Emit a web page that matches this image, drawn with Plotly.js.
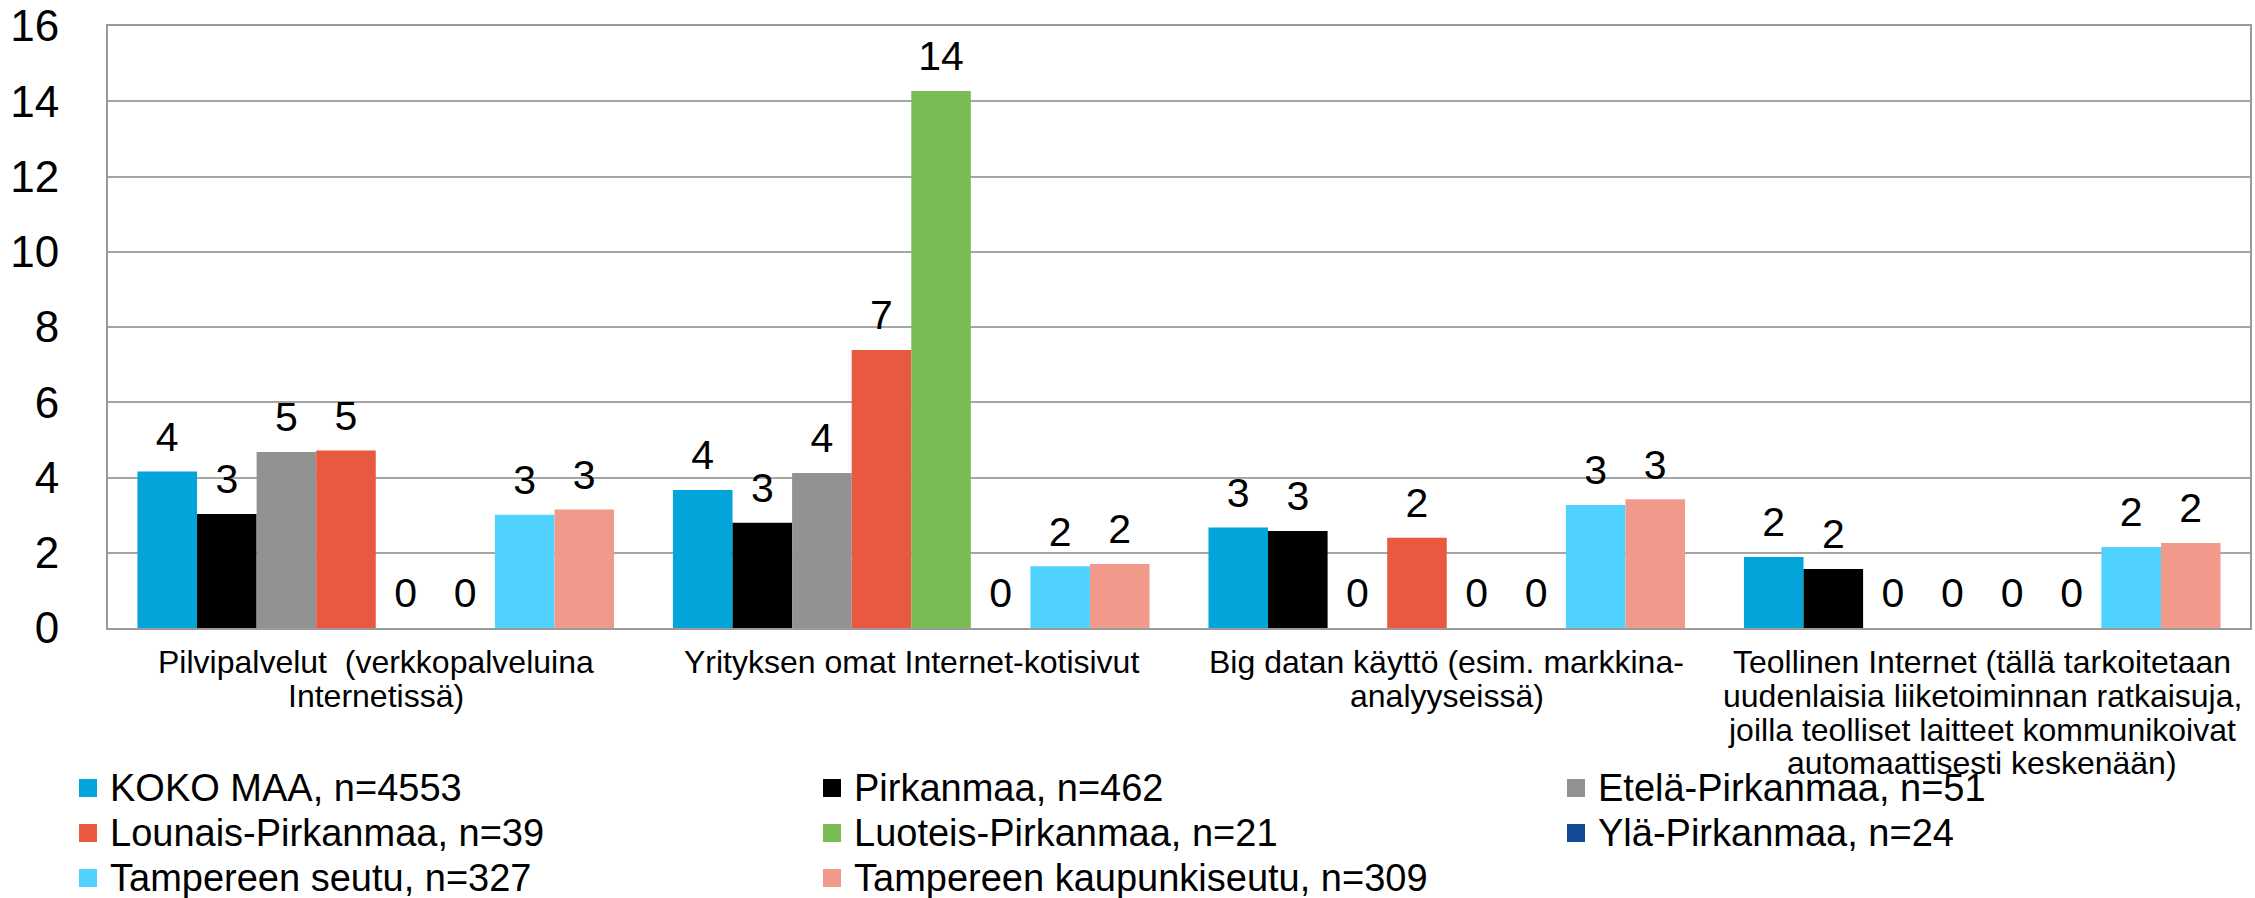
<!DOCTYPE html>
<html>
<head>
<meta charset="utf-8">
<script src="https://cdn.plot.ly/plotly-3.0.1.min.js"></script>
<style>html,body{margin:0;padding:0;background:#fff;}#chart{width:2255px;height:898px;}</style>
</head>
<body>
<div id="chart"></div>
<script>
const categories = [
  "Pilvipalvelut  (verkkopalveluina<br>Internetissä)",
  "Yrityksen omat Internet-kotisivut",
  "Big datan käyttö (esim. markkina-<br>analyyseissä)",
  "Teollinen Internet (tällä tarkoitetaan<br>uudenlaisia liiketoiminnan ratkaisuja,<br>joilla teolliset laitteet kommunikoivat<br>automaattisesti keskenään)"
];
const seriesNames = [
  "KOKO MAA, n=4553",
  "Pirkanmaa, n=462",
  "Etelä-Pirkanmaa, n=51",
  "Lounais-Pirkanmaa, n=39",
  "Luoteis-Pirkanmaa, n=21",
  "Ylä-Pirkanmaa, n=24",
  "Tampereen seutu, n=327",
  "Tampereen kaupunkiseutu, n=309"
];
const kokoMaa       = [4.16, 3.67, 2.67, 1.89];
const pirkanmaa     = [3.03, 2.80, 2.58, 1.57];
const etelaPirk     = [4.68, 4.12, 0, 0];
const lounaisPirk   = [4.72, 7.39, 2.40, 0];
const luoteisPirk   = [0, 14.27, 0, 0];
const ylaPirk       = [0, 0, 0, 0];
const tampSeutu     = [3.01, 1.64, 3.27, 2.15];
const tampKaupSeutu = [3.15, 1.70, 3.42, 2.26];
const yTicks = [0, 2, 4, 6, 8, 10, 12, 14, 16];

const seriesValues = [kokoMaa, pirkanmaa, etelaPirk, lounaisPirk, luoteisPirk, ylaPirk, tampSeutu, tampKaupSeutu];
const colors = ["#03A4D9", "#000000", "#929292", "#E85940", "#79BC55", "#144B95", "#50D2FF", "#F19A8B"];

const FONT = "Liberation Sans, Arial, sans-serif";
const W = 2255, H = 898;
const M = {l: 108, r: 5, t: 26, b: 270};
const plotW = W - M.l - M.r, plotH = H - M.t - M.b;
const px2x = px => (px - M.l) / plotW;
const py2y = py => (H - M.b - py) / plotH;

const barTraces = seriesNames.map((name, i) => ({
  type: "bar",
  name: name,
  x: categories,
  y: seriesValues[i],
  marker: {color: colors[i]},
  showlegend: false,
  hoverinfo: "skip"
}));

const labelTraces = seriesNames.map((name, i) => ({
  type: "scatter",
  mode: "markers+text",
  name: name + " label",
  x: categories,
  y: seriesValues[i],
  texttemplate: "%{y:.0f}",
  textposition: "top center",
  textfont: {family: FONT, size: 41, color: "#000"},
  marker: {size: 15, color: "rgba(0,0,0,0)"},
  cliponaxis: false,
  showlegend: false,
  hoverinfo: "skip"
}));

const shapes = [];
const annotations = [];

// category labels (tight line spacing as in the original)
const catLine0 = 662, catLineStep = 33.8;
categories.forEach(cat => {
  cat.split("<br>").forEach((line, k) => {
    annotations.push({
      xref: "x", yref: "paper",
      x: cat, y: py2y(catLine0 + k * catLineStep),
      xanchor: "center", yanchor: "middle",
      text: line, showarrow: false,
      font: {family: FONT, size: 32, color: "#000"}
    });
  });
});

// legend (3 columns)
const legCol0 = 79, legColStep = 744, legRow0 = 788, legRowStep = 45, legBox = 18, legTextGap = 11;
seriesNames.forEach((name, i) => {
  const col = i % 3, row = Math.floor(i / 3);
  const left = legCol0 + col * legColStep;
  const cy = legRow0 + row * legRowStep;
  shapes.push({
    type: "rect", xref: "paper", yref: "paper",
    x0: px2x(left), x1: px2x(left + legBox),
    y0: py2y(cy - legBox / 2), y1: py2y(cy + legBox / 2),
    fillcolor: colors[i], line: {width: 0}
  });
  annotations.push({
    xref: "paper", yref: "paper",
    x: px2x(left + legBox + legTextGap), y: py2y(cy),
    xanchor: "left", yanchor: "middle",
    text: name, showarrow: false,
    font: {family: FONT, size: 38, color: "#000"}
  });
});

const layout = {
  width: W,
  height: H,
  paper_bgcolor: "#fff",
  plot_bgcolor: "#fff",
  margin: M,
  barmode: "group",
  bargap: 0.11,
  bargroupgap: 0,
  scattermode: "group",
  scattergap: 0.11,
  font: {family: FONT, color: "#000"},
  showlegend: false,
  xaxis: {
    type: "category",
    showticklabels: false,
    showline: true, linecolor: "#9a9a9a", linewidth: 2, mirror: true,
    ticks: "",
    automargin: false
  },
  yaxis: {
    range: [0, 16],
    tickvals: yTicks,
    ticktext: yTicks.map(String),
    tickfont: {size: 44, color: "#000"},
    showgrid: true, gridcolor: "#a6a6a6", gridwidth: 2,
    showline: true, linecolor: "#9a9a9a", linewidth: 2, mirror: true,
    zeroline: false,
    ticks: "", ticklabelstandoff: 38,
    automargin: false
  },
  shapes: shapes,
  annotations: annotations
};

Plotly.newPlot("chart", barTraces.concat(labelTraces), layout, {staticPlot: true, displayModeBar: false});
</script>
</body>
</html>
